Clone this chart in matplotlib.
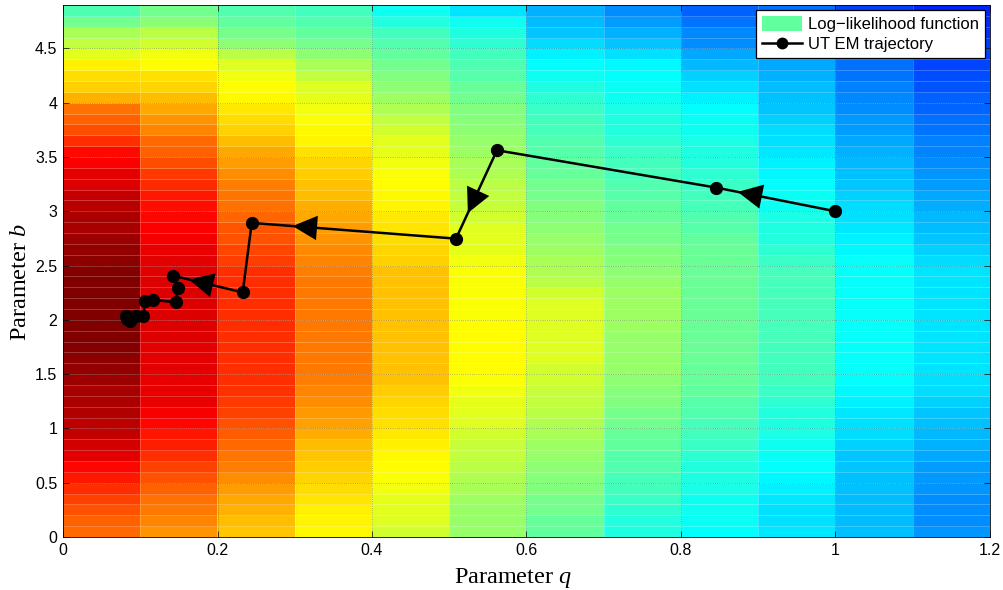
import numpy as np
import matplotlib
matplotlib.use("Agg")
import matplotlib.pyplot as plt
from matplotlib.colors import LinearSegmentedColormap
from matplotlib.patches import Patch
from matplotlib.lines import Line2D

# ---------------- data ----------------
# Grid of parameter q (columns) and b (rows)
q_edges = np.linspace(0.0, 1.2, 13)
b_edges = np.linspace(0.0, 4.9, 50)

# Normalised log-likelihood per cell, one list per q column, rows from b=0 upwards
ll_q00 = [0.77, 0.78, 0.795, 0.81, 0.83, 0.85, 0.87, 0.9, 0.915, 0.93, 0.94, 0.95, 0.955, 0.96, 0.97,
          0.98, 0.985, 0.995, 1.0, 1.0, 1.0, 1.0, 1.0, 1.0, 0.995, 0.985, 0.98, 0.97, 0.96, 0.955,
          0.945, 0.93, 0.91, 0.9, 0.877, 0.865, 0.83, 0.8, 0.78, 0.765, 0.70, 0.67, 0.66, 0.64,
          0.595, 0.565, 0.54, 0.485, 0.45]
ll_q01 = [0.73, 0.745, 0.755, 0.765, 0.78, 0.795, 0.81, 0.83, 0.845, 0.855, 0.87, 0.88, 0.895, 0.895,
          0.895, 0.9, 0.9, 0.9, 0.91, 0.91, 0.91, 0.91, 0.91, 0.91, 0.905, 0.9, 0.895, 0.885, 0.877,
          0.87, 0.86, 0.85, 0.835, 0.82, 0.8, 0.78, 0.77, 0.745, 0.73, 0.71, 0.69, 0.665, 0.655,
          0.625, 0.61, 0.58, 0.555, 0.51, 0.485]
ll_q02 = [0.68, 0.69, 0.70, 0.71, 0.72, 0.735, 0.75, 0.76, 0.77, 0.785, 0.795, 0.81, 0.82, 0.825,
          0.83, 0.83, 0.83, 0.83, 0.83, 0.83, 0.83, 0.83, 0.83, 0.83, 0.83, 0.815, 0.805, 0.795,
          0.79, 0.775, 0.765, 0.76, 0.75, 0.735, 0.72, 0.71, 0.69, 0.67, 0.66, 0.645, 0.63, 0.625,
          0.61, 0.59, 0.555, 0.515, 0.49, 0.47, 0.455]
ll_q03 = [0.63, 0.635, 0.64, 0.65, 0.66, 0.665, 0.675, 0.68, 0.69, 0.705, 0.715, 0.725, 0.735, 0.745,
          0.75, 0.755, 0.755, 0.755, 0.755, 0.755, 0.755, 0.755, 0.755, 0.755, 0.75, 0.745, 0.74,
          0.73, 0.72, 0.71, 0.705, 0.69, 0.685, 0.675, 0.665, 0.655, 0.635, 0.63, 0.62, 0.61, 0.60,
          0.59, 0.565, 0.54, 0.515, 0.49, 0.47, 0.455, 0.44]
ll_q04 = [0.58, 0.59, 0.595, 0.60, 0.61, 0.62, 0.625, 0.63, 0.64, 0.645, 0.655, 0.66, 0.665, 0.675,
          0.685, 0.685, 0.685, 0.685, 0.685, 0.685, 0.685, 0.685, 0.685, 0.685, 0.685, 0.67, 0.665,
          0.66, 0.65, 0.645, 0.635, 0.63, 0.625, 0.62, 0.61, 0.60, 0.595, 0.58, 0.565, 0.545, 0.53,
          0.515, 0.50, 0.485, 0.47, 0.455, 0.44, 0.41, 0.39]
ll_q05 = [0.52, 0.52, 0.525, 0.53, 0.54, 0.545, 0.555, 0.565, 0.57, 0.58, 0.59, 0.595, 0.60, 0.61,
          0.62, 0.625, 0.625, 0.625, 0.625, 0.625, 0.62, 0.62, 0.62, 0.62, 0.62, 0.61, 0.60, 0.595,
          0.59, 0.58, 0.57, 0.565, 0.555, 0.545, 0.54, 0.53, 0.52, 0.515, 0.505, 0.50, 0.485, 0.475,
          0.46, 0.45, 0.44, 0.42, 0.405, 0.39, 0.35]
ll_q06 = [0.47, 0.475, 0.485, 0.49, 0.50, 0.505, 0.515, 0.52, 0.53, 0.54, 0.545, 0.555, 0.565, 0.57,
          0.58, 0.58, 0.59, 0.59, 0.59, 0.59, 0.59, 0.59, 0.58, 0.555, 0.545, 0.54, 0.53, 0.52, 0.515,
          0.505, 0.50, 0.49, 0.485, 0.475, 0.47, 0.46, 0.455, 0.445, 0.44, 0.43, 0.42, 0.405, 0.39,
          0.375, 0.36, 0.34, 0.32, 0.31, 0.30]
ll_q07 = [0.405, 0.41, 0.42, 0.43, 0.44, 0.445, 0.455, 0.46, 0.47, 0.475, 0.485, 0.49, 0.50, 0.505,
          0.515, 0.52, 0.52, 0.52, 0.52, 0.53, 0.53, 0.53, 0.53, 0.52, 0.515, 0.505, 0.50, 0.49,
          0.485, 0.475, 0.47, 0.46, 0.455, 0.445, 0.44, 0.43, 0.42, 0.41, 0.405, 0.40, 0.39, 0.385,
          0.375, 0.37, 0.345, 0.32, 0.30, 0.28, 0.265]
ll_q08 = [0.375, 0.385, 0.39, 0.39, 0.40, 0.405, 0.41, 0.42, 0.43, 0.44, 0.445, 0.455, 0.46, 0.47,
          0.475, 0.475, 0.48, 0.48, 0.48, 0.48, 0.48, 0.48, 0.48, 0.48, 0.48, 0.48, 0.48, 0.47, 0.46,
          0.455, 0.445, 0.44, 0.43, 0.42, 0.41, 0.405, 0.40, 0.39, 0.385, 0.375, 0.36, 0.345, 0.33,
          0.305, 0.29, 0.265, 0.26, 0.24, 0.22]
ll_q09 = [0.355, 0.345, 0.345, 0.355, 0.36, 0.37, 0.375, 0.385, 0.39, 0.40, 0.405, 0.41, 0.42, 0.43,
          0.44, 0.44, 0.44, 0.44, 0.445, 0.445, 0.445, 0.445, 0.445, 0.445, 0.445, 0.43, 0.42, 0.41,
          0.405, 0.40, 0.39, 0.385, 0.375, 0.37, 0.36, 0.355, 0.345, 0.34, 0.33, 0.32, 0.315, 0.31,
          0.30, 0.29, 0.275, 0.27, 0.26, 0.25, 0.235]
ll_q10 = [0.315, 0.31, 0.31, 0.31, 0.315, 0.315, 0.32, 0.32, 0.33, 0.34, 0.345, 0.355, 0.36, 0.37,
          0.375, 0.38, 0.38, 0.38, 0.38, 0.38, 0.38, 0.38, 0.38, 0.38, 0.38, 0.38, 0.37, 0.36, 0.355,
          0.345, 0.34, 0.33, 0.32, 0.315, 0.305, 0.30, 0.29, 0.28, 0.275, 0.265, 0.26, 0.25, 0.24,
          0.235, 0.23, 0.22, 0.21, 0.20, 0.19]
ll_q11 = [0.27, 0.265, 0.265, 0.265, 0.27, 0.275, 0.28, 0.29, 0.30, 0.305, 0.315, 0.32, 0.33, 0.34,
          0.345, 0.35, 0.35, 0.35, 0.35, 0.35, 0.35, 0.35, 0.35, 0.35, 0.35, 0.34, 0.33, 0.32, 0.31,
          0.305, 0.295, 0.29, 0.28, 0.27, 0.265, 0.255, 0.25, 0.24, 0.235, 0.225, 0.22, 0.21, 0.20,
          0.195, 0.19, 0.18, 0.17, 0.165, 0.16]

# UT EM trajectory (q, b)
traj_q = [1.0, 0.8457, 0.5618, 0.5087, 0.2443, 0.2326, 0.1424, 0.1485, 0.1463, 0.1161, 0.1061,
          0.1040, 0.0950, 0.0880, 0.0846, 0.0820, 0.0867, 0.0906, 0.0830, 0.0870]
traj_b = [3.0, 3.218, 3.562, 2.748, 2.893, 2.253, 2.407, 2.293, 2.161, 2.186, 2.170,
          2.038, 2.040, 2.020, 2.017, 2.040, 1.986, 2.030, 2.010, 2.020]

# Direction arrows: segment start index and position along that segment
arrow_seg = [0, 2, 3, 5]
arrow_frac = [0.82, 0.71, 0.80, 0.77]

xticks = [0, 0.2, 0.4, 0.6, 0.8, 1.0, 1.2]
xticklabels = ["0", "0.2", "0.4", "0.6", "0.8", "1", "1.2"]
yticks = [0, 0.5, 1, 1.5, 2, 2.5, 3, 3.5, 4, 4.5]
yticklabels = ["0", "0.5", "1", "1.5", "2", "2.5", "3", "3.5", "4", "4.5"]

# ---------------- plotting ----------------
plt.rcParams['font.family'] = ['Liberation Sans', 'DejaVu Sans']
plt.rcParams['mathtext.fontset'] = 'custom'
plt.rcParams['mathtext.rm'] = 'Liberation Serif'
plt.rcParams['mathtext.it'] = 'Liberation Serif:italic'

matlab_jet = LinearSegmentedColormap('matlab_jet', {
    'red':   [(0, 0, 0), (0.375, 0, 0), (0.625, 1, 1), (0.875, 1, 1), (1, 0.5, 0.5)],
    'green': [(0, 0, 0), (0.125, 0, 0), (0.375, 1, 1), (0.625, 1, 1), (0.875, 0, 0), (1, 0, 0)],
    'blue':  [(0, 0.5, 0.5), (0.125, 1, 1), (0.375, 1, 1), (0.625, 0, 0), (1, 0, 0)],
})

Z = np.array([ll_q00, ll_q01, ll_q02, ll_q03, ll_q04, ll_q05, ll_q06, ll_q07,
              ll_q08, ll_q09, ll_q10, ll_q11]).T

fig = plt.figure(figsize=(10.04, 5.90), dpi=100)
ax = fig.add_axes([63/1004, 53/590, 927/1004, 532/590])

ax.pcolormesh(q_edges, b_edges, Z, cmap=matlab_jet, vmin=0, vmax=1,
              edgecolors=(1, 1, 1, 0.22), linewidth=0.6, zorder=1)

ax.set_xlim(0, 1.2)
ax.set_ylim(0, 4.9)

ax.grid(True, color='k', linestyle=':', linewidth=0.6, alpha=0.35, zorder=2)
ax.set_axisbelow(False)

ax.plot(traj_q, traj_b, '-o', color='k', linewidth=1.8, markersize=8.5, zorder=4)

# arrows along trajectory
for s, f in zip(arrow_seg, arrow_frac):
    x0, y0 = traj_q[s], traj_b[s]
    x1, y1 = traj_q[s + 1], traj_b[s + 1]
    tip = (x0 + f * (x1 - x0), y0 + f * (y1 - y0))
    tail = (x0 + (f - 0.05) * (x1 - x0), y0 + (f - 0.05) * (y1 - y0))
    ax.annotate("", xy=tip, xytext=tail,
                arrowprops=dict(arrowstyle="-|>,head_length=1.1,head_width=0.55",
                                mutation_scale=16, color='k', lw=0, shrinkA=0, shrinkB=0),
                zorder=5)

ax.set_xticks(xticks)
ax.set_xticklabels(xticklabels)
ax.set_yticks(yticks)
ax.set_yticklabels(yticklabels)
ax.tick_params(direction='in', length=4, width=0.5, labelsize=11.5, top=True, right=True,
               colors='k', pad=4)
for sp in ax.spines.values():
    sp.set_linewidth(0.6)

ax.set_xlabel(r"Parameter $q$", fontsize=17.5, family='Liberation Serif')
ax.set_ylabel(r"Parameter $b$", fontsize=17.5, family='Liberation Serif')
ax.xaxis.set_label_coords(0.485, -0.055)
ax.yaxis.set_label_coords(-0.034, 0.48)

handles = [Patch(facecolor=matlab_jet(0.47), edgecolor='none'),
           Line2D([0], [0], color='k', marker='o', linewidth=1.8, markersize=7.5)]
leg = ax.legend(handles, ["Log\u2212likelihood function", "UT EM trajectory"],
                loc='upper right', fontsize=12, frameon=True, fancybox=False,
                edgecolor='k', framealpha=1, borderpad=0.35, labelspacing=0.25,
                handlelength=2.4, handleheight=1.0, handletextpad=0.35, borderaxespad=0.3)
leg.get_frame().set_linewidth(0.9)
leg.set_zorder(10)

fig.savefig("out.png", dpi=100)
